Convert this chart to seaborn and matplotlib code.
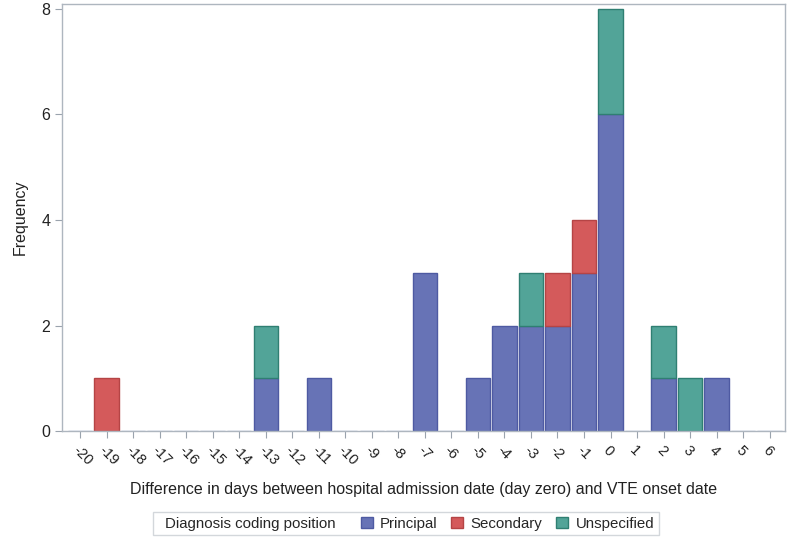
import matplotlib
matplotlib.use("Agg")
import matplotlib.pyplot as plt
from matplotlib.patches import Patch
import seaborn as sns
import pandas as pd
import numpy as np

days = list(range(-20, 7))
tick_labels = [str(d) for d in days]
categories = ["Principal", "Secondary", "Unspecified"]
principal =   [0,0,0,0,0,0,0,1,0,1,0,0,0,3,0,1,2,2,2,3,6,0,1,0,1,0,0]
secondary =   [0,1,0,0,0,0,0,0,0,0,0,0,0,0,0,0,0,0,1,1,0,0,0,0,0,0,0]
unspecified = [0,0,0,0,0,0,0,1,0,0,0,0,0,0,0,0,0,1,0,0,2,0,1,1,0,0,0]

colors = {"Principal": "#6773B6", "Secondary": "#D45A5B", "Unspecified": "#52A498"}
edges = {"Principal": "#4E5AA2", "Secondary": "#B54445", "Unspecified": "#2F7F72"}

rows = []
for cat, vals in zip(categories, [principal, secondary, unspecified]):
    for d, v in zip(days, vals):
        rows.append({"day": d, "cat": cat, "count": v})
df = pd.DataFrame(rows)

sns.set_style("white")
plt.rcParams["font.family"] = ["Liberation Sans", "DejaVu Sans"]

fig = plt.figure(figsize=(8, 5.43), dpi=100)
ax = fig.add_axes([0.0775, 0.206, 0.9035, 0.7866])

sns.histplot(data=df, x="day", weights="count", hue="cat",
             hue_order=categories[::-1], multiple="stack", discrete=True,
             shrink=0.92, palette=colors, alpha=1, linewidth=1.0,
             legend=False, ax=ax)

# darker outlines per category; hide empty segments sitting on top of bars
for patch in ax.patches:
    fc = matplotlib.colors.to_hex(patch.get_facecolor())
    for cat, c in colors.items():
        if fc.lower() == c.lower():
            patch.set_edgecolor(edges[cat])
    if patch.get_height() == 0:
        if patch.get_y() > 0:
            patch.set_visible(False)
        else:
            patch.set_edgecolor("#8E98C8")
            patch.set_linewidth(0.8)

ax.set_xlim(-20.68, 6.57)
ax.set_ylim(0, 8.09)
ax.set_xticks(days)
ax.set_xticklabels(tick_labels, rotation=-45, ha="left", rotation_mode="anchor",
                   fontsize=10.5, color="#222222")
ax.set_yticks([0, 2, 4, 6, 8])
ax.tick_params(axis="y", labelsize=11.5, colors="#222222", length=5, color="#9AA3AD")
ax.tick_params(axis="x", length=5, color="#9AA3AD", pad=4)
ax.tick_params(axis="both", direction="out", bottom=True, left=True)
for s in ax.spines.values():
    s.set_color("#AEB6BF")
    s.set_linewidth(1.0)

ax.set_xlabel("Difference in days between hospital admission date (day zero) and VTE onset date",
              fontsize=11.5, color="#222222", labelpad=10)
ax.set_ylabel("Frequency", fontsize=11.5, color="#222222", labelpad=10)

handles = [Patch(visible=False, label="Diagnosis coding position")]
for cat in categories:
    handles.append(Patch(facecolor=colors[cat], edgecolor=edges[cat], label=cat))
leg = fig.legend(handles=handles, ncol=4, loc="center", bbox_to_anchor=(0.507, 0.0355),
                 frameon=True, fancybox=False, fontsize=10.8, handlelength=0.8,
                 handleheight=0.8, handletextpad=0.5, columnspacing=0.9,
                 borderpad=0.3, borderaxespad=0, edgecolor="#C8CDD3")
leg.get_frame().set_linewidth(1.0)
for t in leg.get_texts()[:1]:
    t.set_position((-12, 0))

fig.savefig("out.png", dpi=100)
